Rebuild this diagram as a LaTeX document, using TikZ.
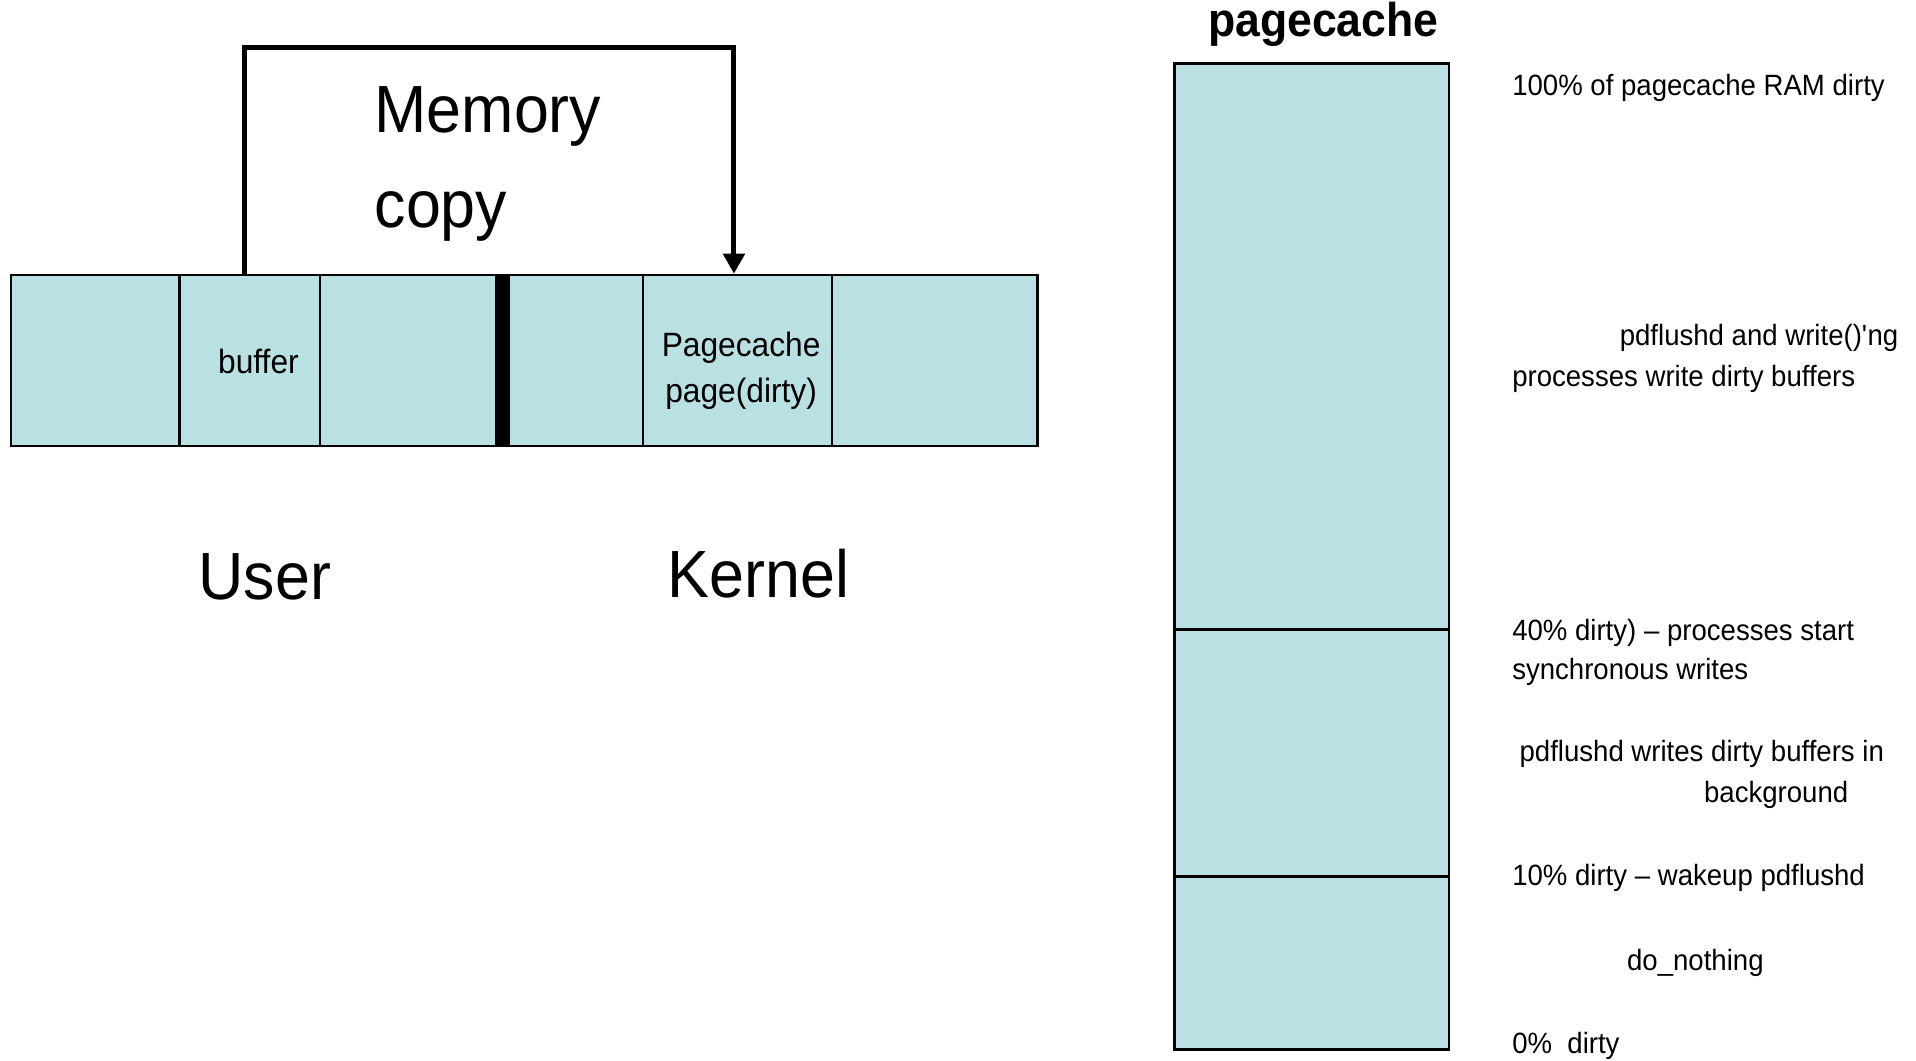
\documentclass[tikz,border=0pt]{standalone}
\usepackage{fontspec}
\setmainfont{Liberation Sans}[FakeStretch=0.94]
\usetikzlibrary{arrows.meta,positioning,fit}
\definecolor{pagecyan}{RGB}{185,224,227}
\tikzset{
  cell/.style={draw,fill=pagecyan,inner sep=0pt,line width=0.7pt},
  cellnote/.style={font=\fontsize{9.6}{13.2}\selectfont,inner sep=0pt},
  bignote/.style={font=\fontsize{19}{27.2}\selectfont,inner sep=0pt},
  sidenote/.style={font=\fontsize{8.35}{11.5}\selectfont,inner sep=0pt,anchor=base west},
  copyline/.style={line width=1.4pt,-{Triangle[length=5.7pt,width=6pt]}},
}
\begin{document}
\begin{tikzpicture}[x=0.01222cm,y=-0.01222cm]
\useasboundingbox (0,0) rectangle (1568,868);
% user / kernel memory strip
\node[cell,fit={(9,225) (849,365)}] (strip) {};
\node[cell,fit={(147,225) (262,365)}] (buf) {};
\node[cell,fit={(526,225) (681,365)}] (page) {};
\fill (405,225) rectangle (417,365);
\node[cellnote,anchor=base west] (buflab) at (178,306) {buffer};
\node[cellnote,anchor=north west,align=center] (pagelab) at (541,271) {Pagecache\\page(dirty)};
% the copy
\draw[copyline] ([xshift=-1.6pt]buf.north) -- ++(0,-185) -| ([xshift=-1pt]page.north);
\node[bignote,anchor=north west,align=left] (copylab) at (306,70) {Memory\\copy};
\node[bignote,anchor=base west] (userlab) at (162,491) {User};
\node[bignote,anchor=base west] (kernlab) at (546,489) {Kernel};
% pagecache levels
\node[cell,fit={(961,52) (1186,859)}] (cache) {};
\node[font=\bfseries\fontsize{13.5}{16}\selectfont,inner sep=0pt,anchor=base] (cachetitle) at ([xshift=3.3pt,yshift=7.3pt]cache.north) {pagecache};
\coordinate (lim40) at (0,515);
\coordinate (lim10) at (0,717);
\draw[line width=0.8pt] (cache.west |- lim40) -- (cache.east |- lim40);
\draw[line width=0.8pt] (cache.west |- lim10) -- (cache.east |- lim10);
\foreach \x/\y/\lab [count=\i] in {1237/78/100\% of pagecache RAM dirty,
    1325/283/pdflushd and write()\textquotesingle ng, 1237/316/processes write dirty buffers,
    1237/524/40\% dirty) -- processes start, 1237/556/synchronous writes,
    1243/623/pdflushd writes dirty buffers in, 1394/657/background,
    1237/725/10\% dirty -- wakeup pdflushd, 1331/794/do\_nothing,
    1237/862/0\%\ \ dirty}
  \node[sidenote] (note\i) at (\x,\y) {\lab};
\end{tikzpicture}
\end{document}
